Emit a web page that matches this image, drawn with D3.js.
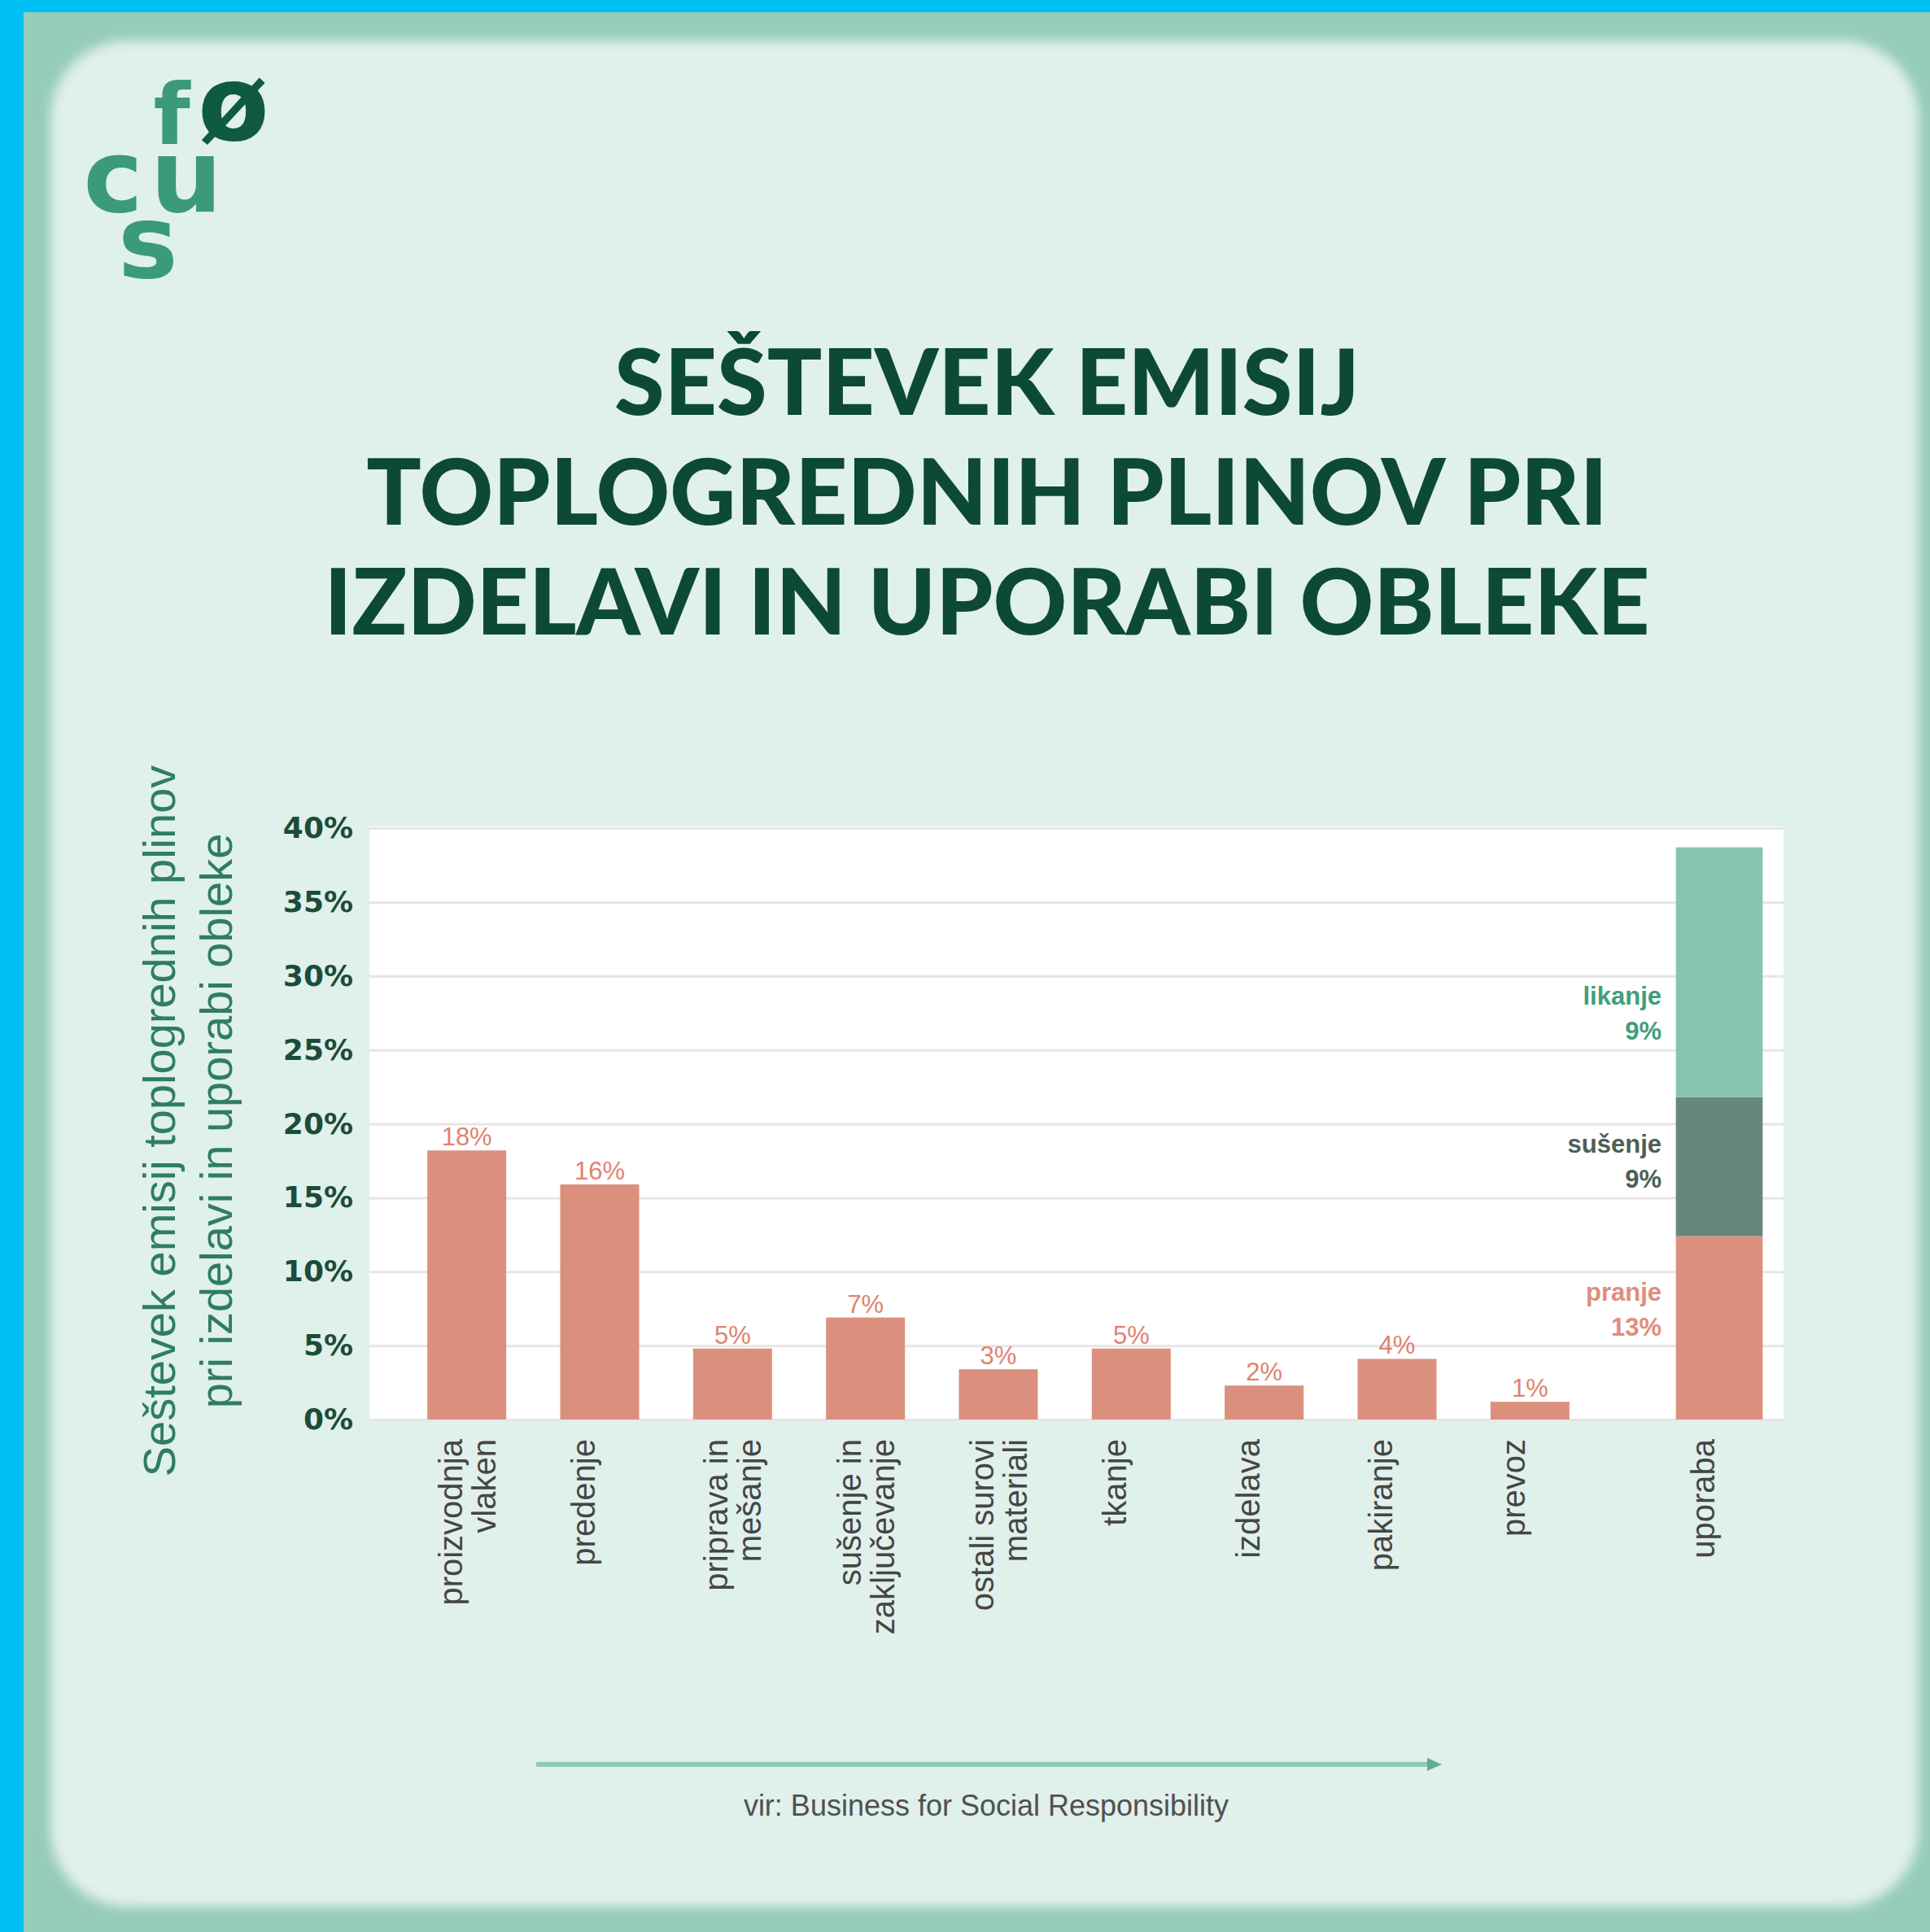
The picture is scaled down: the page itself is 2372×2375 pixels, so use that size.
<html>

<head>
  <meta charset="utf-8">
  <title>Seštevek emisij toplogrednih plinov</title>
  <script src="https://cdn.jsdelivr.net/npm/d3@7"></script>
  <style>
    body { margin: 0; background: #00c0f3; }
    svg { display: block; }
  </style>
</head>

<body>
  <script>
    // Velikost
    const w = 2372;
    const h = 2375;

    // Podatki
    const categories = ["proizvodnja vlaken", "predenje", "priprava in mešanje", "sušenje in zaključevanje",
      "ostali surovi materiali", "tkanje", "izdelava", "pakiranje", "prevoz"];
    const categoryLines = [["proizvodnja", "vlaken"], ["predenje"], ["priprava in", "mešanje"],
      ["sušenje in", "zaključevanje"], ["ostali surovi", "materiali"], ["tkanje"], ["izdelava"],
      ["pakiranje"], ["prevoz"]];
    const values = [18.2, 15.9, 4.8, 6.9, 3.4, 4.8, 2.3, 4.1, 1.2];
    const valueLabels = ["18%", "16%", "5%", "7%", "3%", "5%", "2%", "4%", "1%"];

    const useCategory = "uporaba";
    const useParts = ["pranje", "sušenje", "likanje"];
    const useValues = [12.4, 9.4, 16.9];
    const useLabels = ["13%", "9%", "9%"];
    const useColors = ["#db907e", "#66887b", "#88c4ae"];
    const useTextColors = ["#e08d7b", "#4c5f57", "#3f9e7c"];

    const yTicks = [0, 5, 10, 15, 20, 25, 30, 35, 40];

    const titleLines = ["SEŠTEVEK EMISIJ", "TOPLOGREDNIH PLINOV PRI", "IZDELAVI IN UPORABI OBLEKE"];
    const yTitleLines = ["Seštevek emisij toplogrednih plinov", "pri izdelavi in uporabi obleke"];
    const source = "vir: Business for Social Responsibility";

    // Plot omrade
    const plotLeft = 454;
    const plotRight = 2192;
    const plotBottom = 1745;
    const plotTop = 1018;

    const svg = d3.select("body")
      .append("svg")
      .attr("width", w)
      .attr("height", h);

    const defs = svg.append("defs");
    defs.append("filter").attr("id", "soft")
      .append("feGaussianBlur").attr("stdDeviation", 7);

    // Ozadje in okvir
    svg.append("rect")
      .attr("x", 0).attr("y", 0).attr("width", w).attr("height", h)
      .attr("fill", "#00c0f3");
    svg.append("rect")
      .attr("x", 29).attr("y", 15).attr("width", w - 29).attr("height", h - 15)
      .attr("fill", "#96ccb9");
    svg.append("rect")
      .attr("x", 62).attr("y", 50).attr("width", 2296).attr("height", 2294)
      .attr("rx", 95)
      .attr("fill", "#e0f0eb")
      .attr("filter", "url(#soft)");

    // Logo - en tekst, crke kot tspan
    const logo = svg.append("text")
      .attr("font-family", "'DejaVu Sans', sans-serif")
      .attr("font-weight", "bold")
      .attr("text-anchor", "middle")
      .attr("fill", "#3a9a79");
    logo.append("tspan").attr("x", 211).attr("y", 177).attr("font-size", 104).text("f");
    logo.append("tspan").attr("x", 287).attr("y", 172).attr("font-size", 128).attr("fill", "#0f5a41").text("ø");
    logo.append("tspan").attr("x", 139).attr("y", 260).attr("font-size", 124).text("c");
    logo.append("tspan").attr("x", 229).attr("y", 260).attr("font-size", 124).text("u");
    logo.append("tspan").attr("x", 182).attr("y", 341).attr("font-size", 124).text("s");

    // Naslov
    svg.append("g")
      .selectAll("text")
      .data(titleLines)
      .enter()
      .append("text")
      .attr("x", 1213)
      .attr("y", function (d, i) { return 510 + i * 135; })
      .attr("text-anchor", "middle")
      .attr("font-family", "Lato, sans-serif")
      .attr("font-weight", 900)
      .attr("font-size", 112)
      .attr("fill", "#0d4a34")
      .text(function (d) { return d; });

    // Skale
    const yScale = d3.scaleLinear()
      .domain([0, 40])
      .range([plotBottom, plotTop]);

    const xScale = d3.scaleBand()
      .domain(categories)
      .range([492, 1962])
      .paddingInner(0.406)
      .paddingOuter(0.203);

    const useScale = d3.scaleBand()
      .domain([useCategory])
      .range([2033, 2193])
      .padding(0.2);

    // Belo ozadje grafa
    svg.append("rect")
      .attr("x", plotLeft)
      .attr("y", plotTop - 2)
      .attr("width", plotRight - plotLeft)
      .attr("height", plotBottom - plotTop + 2)
      .attr("fill", "#ffffff");

    // Y os z mrezo
    const yAxis = d3.axisLeft(yScale)
      .tickValues(yTicks)
      .tickSize(-(plotRight - plotLeft))
      .tickPadding(20)
      .tickFormat(function (d) { return d + "%"; });

    const yAxisG = svg.append("g")
      .attr("class", "axis")
      .attr("transform", "translate(" + plotLeft + ",0)")
      .call(yAxis);
    yAxisG.select(".domain").remove();
    yAxisG.selectAll("line")
      .attr("stroke", "#e6e6e6")
      .attr("stroke-width", 3);
    yAxisG.selectAll("text")
      .attr("font-family", "'DejaVu Sans', sans-serif")
      .attr("font-weight", "bold")
      .attr("font-size", 36)
      .attr("fill", "#1b4c3a");

    // Stolpci
    svg.selectAll("rect.bar")
      .data(values)
      .enter()
      .append("rect")
      .attr("class", "bar")
      .attr("x", function (d, i) { return xScale(categories[i]); })
      .attr("y", function (d) { return yScale(d); })
      .attr("width", xScale.bandwidth())
      .attr("height", function (d) { return plotBottom - yScale(d); })
      .attr("fill", "#db907e");

    // Vrednosti nad stolpci
    svg.selectAll("text.value")
      .data(values)
      .enter()
      .append("text")
      .attr("class", "value")
      .attr("x", function (d, i) { return xScale(categories[i]) + xScale.bandwidth() / 2; })
      .attr("y", function (d) { return yScale(d) - 6; })
      .attr("text-anchor", "middle")
      .attr("font-family", "'Liberation Sans', Arial, sans-serif")
      .attr("font-size", 31)
      .attr("fill", "#e0826f")
      .text(function (d, i) { return valueLabels[i]; });

    // Uporaba - zlozen stolpec
    const stack = [];
    let acc = 0;
    useValues.forEach(function (v, i) {
      stack.push({ part: useParts[i], y0: acc, y1: acc + v, color: useColors[i] });
      acc += v;
    });

    svg.selectAll("rect.use")
      .data(stack)
      .enter()
      .append("rect")
      .attr("class", "use")
      .attr("x", useScale(useCategory))
      .attr("y", function (d) { return yScale(d.y1); })
      .attr("width", useScale.bandwidth())
      .attr("height", function (d) { return yScale(d.y0) - yScale(d.y1); })
      .attr("fill", function (d) { return d.color; });

    // Oznake za uporabo - enakomerno razporejene ob stolpcu
    const useLabelG = svg.append("g")
      .attr("font-family", "'Liberation Sans', Arial, sans-serif")
      .attr("font-weight", "bold")
      .attr("font-size", 31)
      .attr("text-anchor", "end");
    useParts.forEach(function (p, i) {
      const yc = yScale(7.6 + i * 10);
      useLabelG.append("text")
        .attr("x", 2042).attr("y", yc - 8)
        .attr("fill", useTextColors[i])
        .text(p);
      useLabelG.append("text")
        .attr("x", 2042).attr("y", yc + 35)
        .attr("fill", useTextColors[i])
        .text(useLabels[i]);
    });

    // Oznake na x osi
    const allLines = categoryLines.concat([[useCategory]]);
    const allCenters = categories.map(function (c) { return xScale(c) + xScale.bandwidth() / 2; })
      .concat([useScale(useCategory) + useScale.bandwidth() / 2]);

    const xLabels = svg.append("g")
      .attr("font-family", "'Liberation Sans', Arial, sans-serif")
      .attr("font-size", 40)
      .attr("fill", "#454545");
    allLines.forEach(function (lines, i) {
      const t = xLabels.append("text")
        .attr("transform", "translate(" + allCenters[i] + "," + (plotBottom + 24) + ") rotate(-90)")
        .attr("text-anchor", "end");
      lines.forEach(function (l, j) {
        t.append("tspan")
          .attr("x", 0)
          .attr("y", -6 + j * 41)
          .text(l);
      });
    });

    // Naslov y osi
    svg.append("g")
      .selectAll("text")
      .data(yTitleLines)
      .enter()
      .append("text")
      .attr("transform", function (d, i) {
        return "translate(" + (215 + i * 70) + ",1378) rotate(-90)";
      })
      .attr("text-anchor", "middle")
      .attr("font-family", "'Liberation Sans', Arial, sans-serif")
      .attr("font-size", 56)
      .attr("fill", "#2f7d62")
      .text(function (d) { return d; });

    // Puscica
    svg.append("line")
      .attr("x1", 659).attr("y1", 2169)
      .attr("x2", 1758).attr("y2", 2169)
      .attr("stroke", "#8fcab5")
      .attr("stroke-width", 6);
    svg.append("path")
      .attr("d", "M1754,2161 L1772,2169 L1754,2177 Z")
      .attr("fill", "#5fae93");

    // Vir
    svg.append("text")
      .attr("x", 1212)
      .attr("y", 2232)
      .attr("text-anchor", "middle")
      .attr("font-family", "'Liberation Sans', Arial, sans-serif")
      .attr("font-size", 36)
      .attr("fill", "#505050")
      .text(source);
  </script>
</body>

</html>
